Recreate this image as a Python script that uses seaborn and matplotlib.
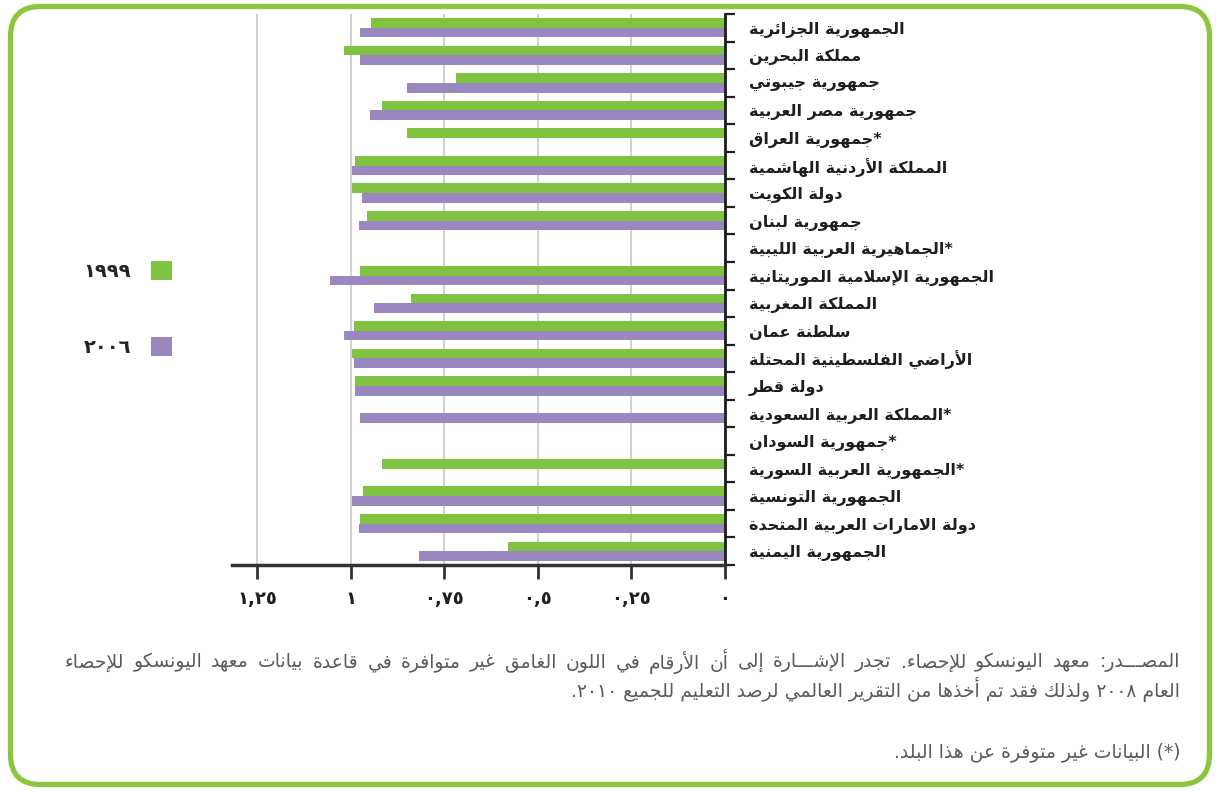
import re
import numpy as np
import pandas as pd
import matplotlib
matplotlib.use("Agg")
import matplotlib.pyplot as plt
import seaborn as sns
from matplotlib.patches import FancyBboxPatch
from matplotlib.transforms import IdentityTransform

# ---------------- data ----------------
countries = [
    "الجمهورية الجزائرية",
    "مملكة البحرين",
    "جمهورية جيبوتي",
    "جمهورية مصر العربية",
    "جمهورية العراق*",
    "المملكة الأردنية الهاشمية",
    "دولة الكويت",
    "جمهورية لبنان",
    "الجماهيرية العربية الليبية*",
    "الجمهورية الإسلامية الموريتانية",
    "المملكة المغربية",
    "سلطنة عمان",
    "الأراضي الفلسطينية المحتلة",
    "دولة قطر",
    "المملكة العربية السعودية*",
    "جمهورية السودان*",
    "الجمهورية العربية السورية*",
    "الجمهورية التونسية",
    "دولة الامارات العربية المتحدة",
    "الجمهورية اليمنية",
]
years = ["١٩٩٩", "٢٠٠٦"]
values_1999 = [0.947, 1.019, 0.719, 0.917, 0.850, 0.989, 0.997, 0.957, np.nan, 0.976,
               0.840, 0.992, 0.997, 0.989, np.nan, np.nan, 0.917, 0.968, 0.976, 0.580]
values_2006 = [0.976, 0.976, 0.850, 0.949, np.nan, 0.997, 0.971, 0.979, np.nan, 1.056,
               0.939, 1.019, 0.992, 0.989, 0.976, np.nan, np.nan, 0.997, 0.979, 0.818]
x_ticks = [0, 0.25, 0.5, 0.75, 1.0, 1.25]
x_tick_labels = ["٠", "٠,٢٥", "٠,٥", "٠,٧٥", "١", "١,٢٥"]
note_line1 = ("المصـــدر: معهد اليونسكو للإحصاء. تجدر الإشـــارة إلى أن الأرقام في "
              "اللون الغامق غير متوافرة في قاعدة بيانات معهد اليونسكو للإحصاء")
note_line2 = "العام ٢٠٠٨ ولذلك فقد تم أخذها من التقرير العالمي لرصد التعليم للجميع ٢٠١٠."
note_line3 = "(*) البيانات غير متوفرة عن هذا البلد."

# ---------------- Arabic shaping (presentation forms) + simple bidi ----------------
_TABLE = [("\u0621", 0xFE80, 1), ("\u0622", 0xFE81, 2), ("\u0623", 0xFE83, 2), ("\u0624", 0xFE85, 2),
          ("\u0625", 0xFE87, 2), ("\u0626", 0xFE89, 4), ("\u0627", 0xFE8D, 2), ("\u0628", 0xFE8F, 4),
          ("\u0629", 0xFE93, 2), ("\u062A", 0xFE95, 4), ("\u062B", 0xFE99, 4), ("\u062C", 0xFE9D, 4),
          ("\u062D", 0xFEA1, 4), ("\u062E", 0xFEA5, 4), ("\u062F", 0xFEA9, 2), ("\u0630", 0xFEAB, 2),
          ("\u0631", 0xFEAD, 2), ("\u0632", 0xFEAF, 2), ("\u0633", 0xFEB1, 4), ("\u0634", 0xFEB5, 4),
          ("\u0635", 0xFEB9, 4), ("\u0636", 0xFEBD, 4), ("\u0637", 0xFEC1, 4), ("\u0638", 0xFEC5, 4),
          ("\u0639", 0xFEC9, 4), ("\u063A", 0xFECD, 4), ("\u0641", 0xFED1, 4), ("\u0642", 0xFED5, 4),
          ("\u0643", 0xFED9, 4), ("\u0644", 0xFEDD, 4), ("\u0645", 0xFEE1, 4), ("\u0646", 0xFEE5, 4),
          ("\u0647", 0xFEE9, 4), ("\u0648", 0xFEED, 2), ("\u0649", 0xFEEF, 2), ("\u064A", 0xFEF1, 4)]
FORMS = {c: tuple(chr(b + k) for k in range(n)) for c, b, n in _TABLE}
LAMALEF = {"\u0622": ("\uFEF5", "\uFEF6"), "\u0623": ("\uFEF7", "\uFEF8"),
           "\u0625": ("\uFEF9", "\uFEFA"), "\u0627": ("\uFEFB", "\uFEFC")}


def _jt(c):
    if isinstance(c, tuple):
        return "R"
    if c == "\u0640":
        return "D"
    f = FORMS.get(c)
    if f is None:
        return "U"
    return {4: "D", 2: "R", 1: "U"}[len(f)]


def shape(s):
    chars, i = [], 0
    while i < len(s):
        if s[i] == "\u0644" and i + 1 < len(s) and s[i + 1] in LAMALEF:
            chars.append(("LA", s[i + 1]))
            i += 2
        else:
            chars.append(s[i])
            i += 1
    out = []
    for i, c in enumerate(chars):
        t = _jt(c)
        prev = chars[i - 1] if i > 0 else None
        nxt = chars[i + 1] if i + 1 < len(chars) else None
        cp = t in "DR" and prev is not None and _jt(prev) == "D"
        cn = t == "D" and nxt is not None and _jt(nxt) in "DR"
        if isinstance(c, tuple):
            iso, fin = LAMALEF[c[1]]
            out.append(fin if cp else iso)
        elif c not in FORMS:
            out.append(c)
        else:
            f = FORMS[c]
            if len(f) == 1:
                out.append(f[0])
            elif len(f) == 2:
                out.append(f[1] if cp else f[0])
            else:
                out.append(f[3] if (cp and cn) else f[1] if cp else f[2] if cn else f[0])
    return "".join(out)


_MIRROR = {"(": ")", ")": "("}


def rtl(s):
    toks = re.findall(r"[\u0660-\u06690-9]+(?:[.,][\u0660-\u06690-9]+)*|.", shape(s), flags=re.S)
    return "".join(_MIRROR.get(t, t) for t in reversed(toks))


def label_visual(s):
    star = s.endswith("*")
    core = s[:-1] if star else s
    return rtl(core) + ("*" if star else "")


# ---------------- style ----------------
sns.set_style("white")
plt.rcParams["font.family"] = ["DejaVu Sans"]

GREEN = "#80C242"
PURPLE = "#9B87BF"
BORDER = "#8CC63F"
DARK = "#1e1e1e"

df = pd.DataFrame({
    "country": countries * 2,
    "year": [years[0]] * len(countries) + [years[1]] * len(countries),
    "value": values_1999 + values_2006,
})

W, H = 1221, 791
fig = plt.figure(figsize=(W / 100, H / 100), dpi=100)
ax = fig.add_axes([232 / W, (H - 565) / H, (725 - 232) / W, (565 - 14) / H])

sns.barplot(data=df, y="country", x="value", hue="year", order=countries, hue_order=years,
            palette=[GREEN, PURPLE], orient="h", width=0.7, errorbar=None, saturation=1,
            ax=ax, legend=True, linewidth=0)

ax.set_axisbelow(True)
ax.grid(axis="x", color="#cdcdcd", linewidth=1.3)
ax.grid(axis="y", visible=False)
ax.set_xlim(1.318, 0)
ax.set_xlabel("")
ax.set_ylabel("")

ax.set_xticks(x_ticks)
ax.set_xticklabels(x_tick_labels, fontsize=13, fontweight="bold", color=DARK)
ax.tick_params(axis="x", length=10, width=2, color="#333333", pad=8, direction="out", bottom=True)

ax.yaxis.tick_right()
ax.set_yticks(range(len(countries)))
ax.set_yticklabels([label_visual(c) for c in countries], fontsize=11.5, fontweight="bold", color=DARK)
ax.set_yticks(np.arange(-0.5, len(countries), 1.0), minor=True)
ax.tick_params(axis="y", which="major", length=0, pad=17)
ax.tick_params(axis="y", which="minor", length=7, width=1.6, color=DARK, direction="out",
               right=True, left=False)

for side in ["left", "top"]:
    ax.spines[side].set_visible(False)
ax.spines["right"].set_linewidth(2)
ax.spines["right"].set_color(DARK)
ax.spines["bottom"].set_linewidth(2.5)
ax.spines["bottom"].set_color("#333333")

handles, labels = ax.get_legend_handles_labels()
ax.get_legend().remove()
fig.legend(handles, labels, loc="center right", bbox_to_anchor=(172 / W, (H - 309) / H),
           frameon=False, markerfirst=False, handlelength=1.1, handleheight=1.1,
           handletextpad=1.0, labelspacing=2.9, borderpad=0, borderaxespad=0,
           prop={"size": 14, "weight": "bold"})

# ---------------- footnotes ----------------
NOTE_COLOR = "#5a5a5a"
NOTE_SIZE = 13.5
renderer = fig.canvas.get_renderer()
left_px, right_px = 65, 1180
words = note_line1.split(" ")
texts, widths = [], []
for w in words:
    t = fig.text(0, 0, rtl(w), fontsize=NOTE_SIZE, color=NOTE_COLOR, ha="right", va="center")
    texts.append(t)
    widths.append(t.get_window_extent(renderer).width)
gap = (right_px - left_px - sum(widths)) / (len(words) - 1)
x = right_px
y1 = (H - 662) / H
for t, wd in zip(texts, widths):
    t.set_position((x / W, y1))
    x -= wd + gap

fig.text(right_px / W, (H - 690) / H, rtl(note_line2), fontsize=NOTE_SIZE, color=NOTE_COLOR,
         ha="right", va="center")
fig.text(right_px / W, (H - 752) / H, rtl(note_line3), fontsize=NOTE_SIZE, color=NOTE_COLOR,
         ha="right", va="center")

# ---------------- rounded green frame ----------------
frame = FancyBboxPatch((10.5, 6.5), 1199, 778, boxstyle="round,pad=0,rounding_size=30",
                       transform=IdentityTransform(), fill=False, edgecolor=BORDER, linewidth=3.8)
fig.add_artist(frame)

fig.savefig("out.png", dpi=100)
